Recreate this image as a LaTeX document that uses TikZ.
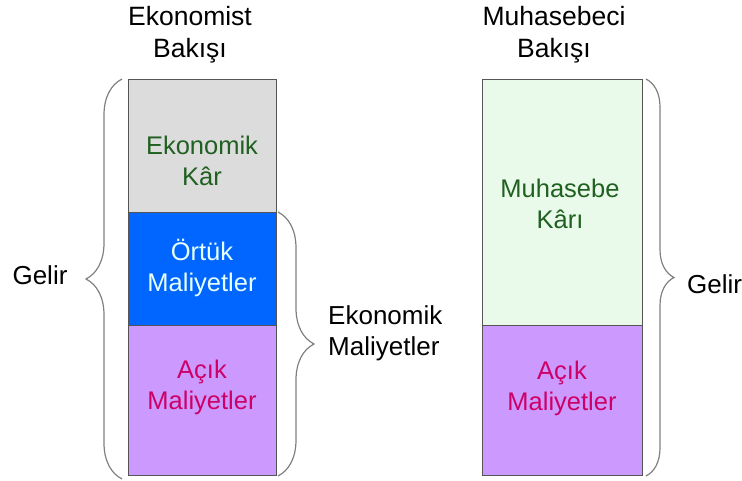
\documentclass[tikz,border=0pt]{standalone}
\usepackage{fontspec}
\setmainfont{Liberation Sans}
\usetikzlibrary{decorations.pathreplacing}
\definecolor{boxline}{RGB}{85,85,85}
\definecolor{grayfill}{RGB}{220,220,220}
\definecolor{bluefill}{RGB}{0,102,255}
\definecolor{purplefill}{RGB}{204,153,255}
\definecolor{greenfill}{RGB}{234,250,234}
\definecolor{greentext}{RGB}{32,96,32}
\definecolor{pinktext}{RGB}{204,0,102}
\definecolor{lighttext}{RGB}{230,255,255}
\definecolor{bracegray}{RGB}{128,128,128}
\begin{document}
\begin{tikzpicture}[x=1pt,y=-1pt,
  box/.style={draw=boxline, line width=1pt, inner sep=0pt, anchor=north west},
  lbl/.style={align=center, font=\fontsize{25.5}{31}\selectfont, inner sep=0pt},
  side/.style={align=center, font=\fontsize{26}{31}\selectfont, inner sep=0pt},
  ttl/.style={align=center, font=\fontsize{26.5}{32}\selectfont, inner sep=0pt},
  brc/.style={draw=bracegray, line width=1.2pt, decorate, decoration={brace, amplitude=#1}}]
\useasboundingbox (0,0) rectangle (742,481);
% left bar
\node[box, fill=grayfill, minimum width=148pt, minimum height=133pt] (ekar) at (128,79) {};
\node[box, fill=bluefill, minimum width=148pt, minimum height=113pt] (ortuk) at (128,212) {};
\node[box, fill=purplefill, minimum width=148pt, minimum height=150pt] (acik1) at (128,325) {};
% right bar
\node[box, fill=greenfill, minimum width=160pt, minimum height=246pt] (mkar) at (482,79) {};
\node[box, fill=purplefill, minimum width=160pt, minimum height=150pt] (acik2) at (482,325) {};
% titles
\node[ttl] (t1) at (190,35) {Ekonomist\\Bakışı};
\node[ttl] (t2) at (554,35) {Muhasebeci\\Bakışı};
% bar labels
\node[lbl, text=greentext] (l1) at (202,161) {Ekonomik\\Kâr};
\node[lbl, text=lighttext] (l2) at (202,268) {Örtük\\Maliyetler};
\node[lbl, text=pinktext] (l3) at (202,387) {Açık\\Maliyetler};
\node[lbl, text=greentext] (l4) at (560,204) {Muhasebe\\Kârı};
\node[lbl, text=pinktext] (l5) at (562,388) {Açık\\Maliyetler};
% braces
\draw[brc=36] ([xshift=-6pt,yshift=-3pt]acik1.south west) -- ([xshift=-6pt]ekar.north west);
\draw[brc=36] ([xshift=1pt]ortuk.north east) -- ([xshift=1pt]acik1.south east);
\draw[brc=28] ([xshift=3pt]mkar.north east) -- ([xshift=3pt]acik2.south east);
% brace labels
\node[side] (g1) at (40,275) {Gelir};
\node[side, align=left, anchor=west] (em) at (328,333) {Ekonomik\\Maliyetler};
\node[side, anchor=west] (g2) at (687,284) {Gelir};
\end{tikzpicture}
\end{document}
